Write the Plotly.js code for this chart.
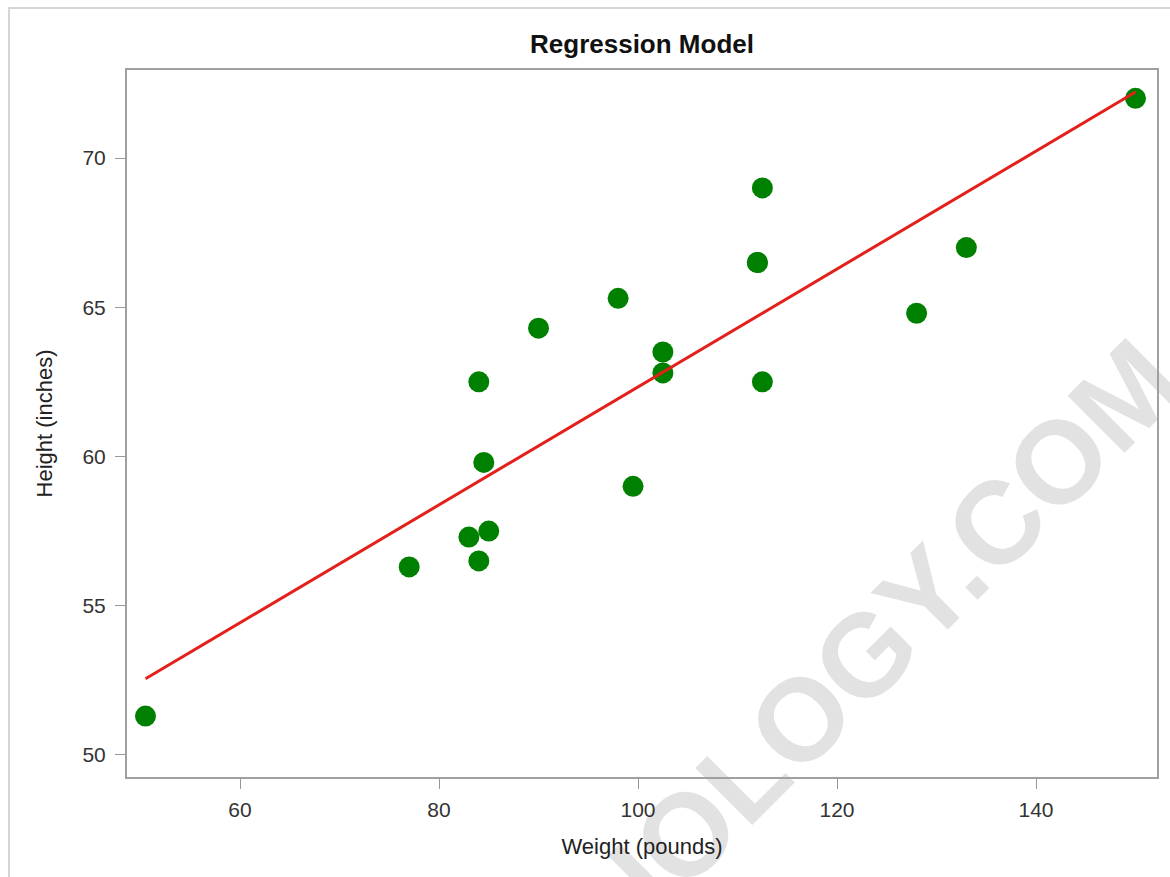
<!DOCTYPE html>
<html>
<head>
<meta charset="utf-8">
<script src="https://cdn.plot.ly/plotly-3.0.1.min.js"></script>
<style>
  html, body { margin: 0; padding: 0; background: #fff; }
  #wrap { position: relative; width: 1170px; height: 877px; overflow: hidden; background: #fff; }
  #watermark {
    position: absolute; left: 895px; top: 625px;
    transform: translate(-50%, -50%) rotate(-45deg);
    font-family: 'Liberation Sans', Arial, sans-serif; font-weight: bold;
    font-size: 117px; line-height: 1; color: #e2e2e2; white-space: nowrap;
    z-index: 0;
  }
  #chart { position: absolute; left: 0; top: 0; width: 1170px; height: 877px; z-index: 1; }
</style>
</head>
<body>
<div id="wrap">
  <div id="watermark">IOLOGY.COM</div>
  <div id="chart"></div>
</div>
<script>
// Weight (pounds) and Height (inches) for each student
const weight = [112.5, 84, 98, 102.5, 102.5, 83, 84.5, 112.5, 84, 99.5, 50.5, 90, 77, 112, 150, 128, 133, 85, 112];
const height = [69, 56.5, 65.3, 62.8, 63.5, 57.3, 59.8, 62.5, 62.5, 59, 51.3, 64.3, 56.3, 66.5, 72, 64.8, 67, 57.5, 66.5];

// Fitted regression line endpoints
const fitX = [50.5, 150];
const fitY = [52.55, 72.21];

const xTicks = [60, 80, 100, 120, 140];
const yTicks = [50, 55, 60, 65, 70];

const font = "'Liberation Sans', Arial, sans-serif";

const traces = [
  {
    type: 'scatter', mode: 'markers', x: weight, y: height,
    marker: { color: '#008000', size: 21, line: { width: 0 } },
    showlegend: false, hoverinfo: 'x+y'
  },
  {
    type: 'scatter', mode: 'lines', x: fitX, y: fitY,
    line: { color: '#e3201b', width: 3 },
    showlegend: false
  }
];

const L = 127, R = 1157, T = 70, B = 777;
const pw = R - L, ph = B - T;
function px(xp) { return (xp - L) / pw; }
function py(yp) { return (B - yp) / ph; }

const layout = {
  width: 1170, height: 877,
  margin: { l: L, r: 1170 - R, t: T, b: 877 - B, pad: 0 },
  paper_bgcolor: 'rgba(0,0,0,0)', plot_bgcolor: 'rgba(0,0,0,0)',
  font: { family: font, color: '#333', size: 21 },
  title: {
    text: '<b>Regression Model</b>',
    font: { family: font, size: 26, color: '#111' },
    x: 0.5, xref: 'paper', xanchor: 'center',
    y: 1 - 44 / 877, yref: 'container', yanchor: 'middle'
  },
  xaxis: {
    range: [48.64, 152.16],
    tickvals: xTicks, ticktext: xTicks.map(String),
    ticks: 'outside', ticklen: 10, tickcolor: '#999', tickwidth: 1,
    ticklabelstandoff: 3,
    showline: true, linecolor: '#a0a0a0', linewidth: 2, mirror: true,
    showgrid: false, zeroline: false,
    tickfont: { family: font, size: 21, color: '#333' },
    title: { text: 'Weight (pounds)', font: { family: font, size: 22, color: '#222' }, standoff: 18 }
  },
  yaxis: {
    range: [49.26, 72.95],
    tickvals: yTicks, ticktext: yTicks.map(String),
    ticks: 'outside', ticklen: 10, tickcolor: '#999', tickwidth: 1,
    ticklabelstandoff: 5,
    showline: true, linecolor: '#a0a0a0', linewidth: 2, mirror: true,
    showgrid: false, zeroline: false,
    tickfont: { family: font, size: 21, color: '#333' },
    title: { text: 'Height (inches)', font: { family: font, size: 22, color: '#222' }, standoff: 24 }
  },
  shapes: [
    {
      type: 'rect', xref: 'paper', yref: 'paper', layer: 'below',
      x0: px(9), x1: px(1180), y0: py(890), y1: py(8),
      line: { color: '#d6d6d6', width: 2 }, fillcolor: 'rgba(0,0,0,0)'
    }
  ]
};

Plotly.newPlot('chart', traces, layout, { displayModeBar: false, staticPlot: true });
</script>
</body>
</html>
